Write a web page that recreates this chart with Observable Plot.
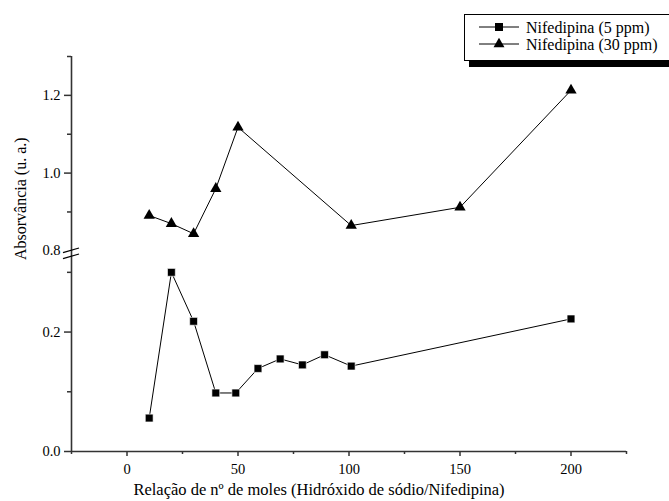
<!DOCTYPE html>
<html><head><meta charset="utf-8">
<script src="https://cdn.jsdelivr.net/npm/d3@7"></script>
<script src="https://cdn.jsdelivr.net/npm/@observablehq/plot@0.6"></script>
<style>
body{margin:0;background:#fff;}
#wrap{position:relative;width:669px;height:501px;overflow:hidden;font-family:"Liberation Serif","Times New Roman",serif;background:#fff;}
#legend{position:absolute;left:464px;top:14px;width:215px;height:45px;border:1px solid #000;box-shadow:5px 6px 0 0 #000;background:#fff;}
#legend svg{position:absolute;left:0;top:0;}
</style></head><body><div id="wrap"></div>
<script>
// ---- data ----
const ratio5 = [10, 20, 30, 40, 49, 59, 69, 79, 89, 101, 200];
const abs5   = [0.056, 0.300, 0.218, 0.098, 0.098, 0.139, 0.155, 0.145, 0.162, 0.143, 0.222];
const ratio30 = [10, 20, 30, 40, 50, 101, 150, 200];
const abs30   = [0.891, 0.870, 0.844, 0.960, 1.118, 0.865, 0.912, 1.213];
const seriesNames = ["Nifedipina (5 ppm)", "Nifedipina (30 ppm)"];
const xMajor = [0, 50, 100, 150, 200];
const xMinor = [-25, 25, 75, 125, 175, 225];
const yMajor = [0.0, 0.2, 0.8, 1.0, 1.2];
const yMajorLabels = ["0.0", "0.2", "0.8", "1.0", "1.2"];
const yMinor = [0.1, 0.3, 0.9, 1.1, 1.3];
const xTitle = "Relação de nº de moles (Hidróxido de sódio/Nifedipina)";
const yTitle = "Absorvância (u. a.)";

// ---- broken y axis: lower segment [0, 0.336], upper segment [0.8, 1.3] ----
const LOW_TOP = 0.336, UP_START = 0.8, UP_FACTOR = 0.6508;
const disp = v => v < 0.5 ? v : LOW_TOP + (v - UP_START) * UP_FACTOR;

const d5 = ratio5.map((r, i) => ({r, a: abs5[i]}));
const d30 = ratio30.map((r, i) => ({r, a: abs30[i]}));
const labelOf = new Map(yMajor.map((v, i) => [disp(v), yMajorLabels[i]]));

const axisColor = "#333";
const serif = "'Liberation Serif','Times New Roman',serif";

function breakMarks(index, scales) {
  const x0 = scales.x(-25), yb = scales.y(disp(UP_START));
  const g = d3.create("svg:g").attr("stroke", "#000").attr("stroke-width", 1.2);
  for (const off of [0, 6]) {
    g.append("line").attr("x1", x0 - 8).attr("y1", yb + off + 2.3)
      .attr("x2", x0 + 8).attr("y2", yb + off - 2.3);
  }
  return g.node();
}

const chart = Plot.plot({
  width: 669, height: 501,
  marginLeft: 71, marginRight: 43, marginTop: 56, marginBottom: 50,
  style: {fontFamily: serif, fontSize: "14.5px", color: "#000", background: "#fff", overflow: "visible"},
  x: {domain: [-25, 225]},
  y: {domain: [0, disp(1.3)]},
  marks: [
    Plot.ruleY([0], {stroke: axisColor, strokeWidth: 1.6}),
    Plot.ruleX([-25], {stroke: axisColor, strokeWidth: 1.6}),
    Plot.axisX({ticks: xMajor, tickSize: 5, tickPadding: 7, stroke: axisColor, strokeWidth: 1.5, label: null, tickFormat: d => String(d), fontSize: 14.5}),
    Plot.axisX({ticks: xMinor, tickSize: 3, stroke: axisColor, strokeWidth: 1.5, label: null, tickFormat: () => ""}),
    Plot.axisY({ticks: yMajor.filter(v => v !== UP_START).map(disp), tickSize: 7, stroke: axisColor, strokeWidth: 1.5, label: null, tickFormat: () => ""}),
    Plot.axisY({ticks: yMajor.map(disp), tickSize: 0, tickPadding: 11, label: null, tickFormat: d => labelOf.get(d), fontSize: 14.5}),
    Plot.axisY({ticks: yMinor.map(disp), tickSize: 4, stroke: axisColor, strokeWidth: 1.5, label: null, tickFormat: () => ""}),
    breakMarks,
    Plot.line(d5, {x: "r", y: d => disp(d.a), stroke: "#000", strokeWidth: 1}),
    Plot.dot(d5, {x: "r", y: d => disp(d.a), symbol: "square", r: 4.4, fill: "#000", stroke: "#fff", strokeWidth: 0.6}),
    Plot.line(d30, {x: "r", y: d => disp(d.a), stroke: "#000", strokeWidth: 1}),
    Plot.dot(d30, {x: "r", y: d => disp(d.a), symbol: "triangle", r: 4.2, fill: "#000", stroke: "none"}),
    Plot.text([xTitle], {frameAnchor: "bottom", dx: -30, dy: 43, fontSize: 16.5, fill: "#000"}),
    Plot.text([yTitle], {frameAnchor: "left", dx: -51, dy: 6, rotate: -90, fontSize: 16, fill: "#000"})
  ]
});

const wrap = document.getElementById("wrap");
wrap.appendChild(chart);

// legend box (top right)
const legend = document.createElement("div");
legend.id = "legend";
wrap.appendChild(legend);
const lsvg = d3.select(legend).append("svg").attr("width", 215).attr("height", 45);
const rows = [{y: 12, sym: d3.symbolSquare, size: 64}, {y: 29, sym: d3.symbolTriangle, size: 52}];
rows.forEach((row, i) => {
  lsvg.append("line").attr("x1", 14).attr("x2", 54).attr("y1", row.y).attr("y2", row.y).attr("stroke", "#000").attr("stroke-width", 1);
  lsvg.append("path").attr("d", d3.symbol(row.sym, row.size)()).attr("transform", `translate(34,${row.y})`).attr("fill", "#000");
  lsvg.append("text").attr("x", 61).attr("y", row.y).attr("dy", "0.35em")
    .attr("font-family", serif).attr("font-size", 16).attr("fill", "#000")
    .text(seriesNames[i]);
});
</script></body></html>
